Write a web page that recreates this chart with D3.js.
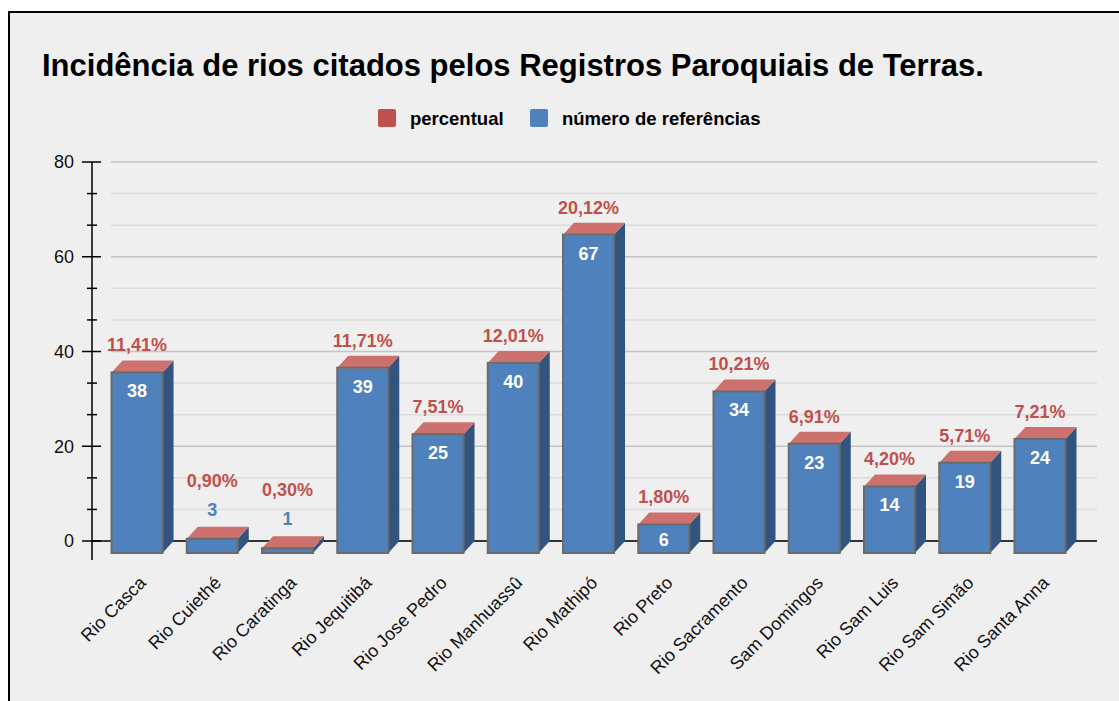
<!DOCTYPE html>
<meta charset="utf-8">
<head>
  <title>Incidência de rios</title>
  <script src="https://d3js.org/d3.v7.min.js"></script>
  <style>
    body { margin: 0; background: #fff; }
    svg { display: block; font-family: "Liberation Sans", Arial, sans-serif; }
    .tick-label { font-size: 18px; fill: #111; }
    .cat-label { font-size: 18px; fill: #111; }
    .val { font-size: 18px; font-weight: bold; }
  </style>
</head>
<body>
<script>

var categories = ["Rio Casca", "Rio Cuiethé", "Rio Caratinga", "Rio Jequitibá", "Rio Jose Pedro",
  "Rio Manhuassû", "Rio Mathipó", "Rio Preto", "Rio Sacramento", "Sam Domingos",
  "Rio Sam Luis", "Rio Sam Simão", "Rio Santa Anna"];
var referencias = [38, 3, 1, 39, 25, 40, 67, 6, 34, 23, 14, 19, 24];
var percentual = [11.41, 0.90, 0.30, 11.71, 7.51, 12.01, 20.12, 1.80, 10.21, 6.91, 4.20, 5.71, 7.21];
var yTicks = [0, 20, 40, 60, 80];

var W = 1119, H = 701;
var dx = 11, dy = 12;   // 3d depth
var blue = "#4f81bd", blueSide = "#32557f", red = "#c0504d", redTop = "#cd716e", edge = "#6b6b6b";

var svg = d3.select("body").append("svg")
    .attr("width", W)
    .attr("height", H);

// frame
svg.append("rect")
    .attr("x", 9).attr("y", 12)
    .attr("width", 1300).attr("height", 900)
    .attr("fill", "#efefef")
    .attr("stroke", "#000")
    .attr("stroke-width", 2);

svg.append("text")
    .attr("x", 42).attr("y", 76)
    .style("font-size", "31px")
    .style("font-weight", "bold")
    .text("Incidência de rios citados pelos Registros Paroquiais de Terras.");

// legend
var legend = [
  {name: "percentual", color: red, x: 378},
  {name: "número de referências", color: blue, x: 530}
];
var lg = svg.selectAll("g.legend").data(legend).enter().append("g")
    .attr("class", "legend")
    .attr("transform", function(d) { return "translate(" + d.x + ",109)"; });
lg.append("rect")
    .attr("width", 18).attr("height", 18).attr("rx", 2)
    .attr("fill", function(d) { return d.color; });
lg.append("text")
    .attr("x", 32).attr("y", 16)
    .style("font-size", "18.5px")
    .style("font-weight", "bold")
    .text(function(d) { return d.name; });

var x = d3.scaleBand()
    .domain(categories)
    .range([99.4, 1077.6])
    .paddingInner(0.322)
    .paddingOuter(0.161);

var y = d3.scaleLinear()
    .domain([0, 80])
    .range([541, 162]);

var gridLeft = 111, gridRight = 1097;

// gridlines (minor + major)
var minor = d3.range(0, 80.01, 20 / 3);
function isMajor(d) { return Math.abs(d / 20 - Math.round(d / 20)) < 1e-6; }

svg.append("g").selectAll("line").data(minor).enter().append("line")
    .attr("x1", gridLeft).attr("x2", gridRight)
    .attr("y1", function(d) { return y(d); })
    .attr("y2", function(d) { return y(d); })
    .attr("stroke", function(d) { return isMajor(d) ? "#c4c4c4" : "#dcdcdc"; })
    .attr("stroke-width", 1.5);

// zero line
svg.append("line")
    .attr("x1", 92).attr("x2", gridRight)
    .attr("y1", y(0)).attr("y2", y(0))
    .attr("stroke", "#000").attr("stroke-width", 1.5);

// y axis
var axis = svg.append("g");
axis.append("line")
    .attr("x1", 92).attr("x2", 92)
    .attr("y1", y(80)).attr("y2", 560)
    .attr("stroke", "#000").attr("stroke-width", 1.5);
axis.selectAll("line.minor").data(minor).enter().append("line")
    .attr("class", "minor")
    .attr("x1", function(d) { return isMajor(d) ? 82 : 87; })
    .attr("x2", function(d) { return isMajor(d) ? 101 : 97; })
    .attr("y1", function(d) { return y(d); })
    .attr("y2", function(d) { return y(d); })
    .attr("stroke", "#000").attr("stroke-width", 1.5);
axis.selectAll("text").data(yTicks).enter().append("text")
    .attr("class", "tick-label")
    .attr("x", 74)
    .attr("y", function(d) { return y(d); })
    .attr("dy", "0.35em")
    .attr("text-anchor", "end")
    .text(function(d) { return d; });

// bars
var rows = categories.map(function(c, i) {
  return {cat: c, v: referencias[i], p: percentual[i]};
});

var bars = svg.selectAll("g.bar").data(rows).enter().append("g").attr("class", "bar");

bars.each(function(d) {
  var g = d3.select(this);
  var bx = x(d.cat), bw = x.bandwidth();
  var base = y(0) + dy;
  var vTop = y(d.v) + dy;
  var top = y(d.v + d.p / 100) + dy;

  // side face
  g.append("path")
      .attr("d", "M" + (bx + bw) + "," + top + "L" + (bx + bw + dx) + "," + (top - dy) +
                 "L" + (bx + bw + dx) + "," + (base - dy) + "L" + (bx + bw) + "," + base + "Z")
      .attr("fill", blueSide);
  // top face
  g.append("path")
      .attr("d", "M" + bx + "," + top + "L" + (bx + dx) + "," + (top - dy) +
                 "L" + (bx + bw + dx) + "," + (top - dy) + "L" + (bx + bw) + "," + top + "Z")
      .attr("fill", redTop);
  // front faces
  g.append("rect")
      .attr("x", bx).attr("y", vTop)
      .attr("width", bw).attr("height", base - vTop)
      .attr("fill", blue);
  g.append("rect")
      .attr("x", bx).attr("y", top)
      .attr("width", bw).attr("height", vTop - top)
      .attr("fill", red);
  g.append("rect")
      .attr("x", bx).attr("y", top)
      .attr("width", bw).attr("height", base - top)
      .attr("fill", "none")
      .attr("stroke", edge)
      .attr("stroke-width", 2);

  var cx = bx + bw / 2;
  var inside = (base - top) > 26;
  var pctY;
  if (inside) {
    g.append("text").attr("class", "val")
        .attr("x", cx).attr("y", Math.min(top + 25, base - 7))
        .attr("text-anchor", "middle")
        .attr("fill", "#fff")
        .text(d.v);
    pctY = top - dy - 9;
  } else {
    var vy = top - dy - 11;
    g.append("text").attr("class", "val")
        .attr("x", cx).attr("y", vy)
        .attr("text-anchor", "middle")
        .attr("fill", blue)
        .text(d.v);
    pctY = vy - 29;
  }
  g.append("text").attr("class", "val")
      .attr("x", cx).attr("y", pctY)
      .attr("text-anchor", "middle")
      .attr("fill", red)
      .text(d.p.toFixed(2).replace(".", ",") + "%");
});

// category labels
svg.append("g").selectAll("text").data(categories).enter().append("text")
    .attr("class", "cat-label")
    .attr("text-anchor", "end")
    .attr("transform", function(d) {
      return "translate(" + (x(d) + x.bandwidth() / 2 + 10) + ",584) rotate(-45)";
    })
    .text(function(d) { return d; });

</script>
</body>
